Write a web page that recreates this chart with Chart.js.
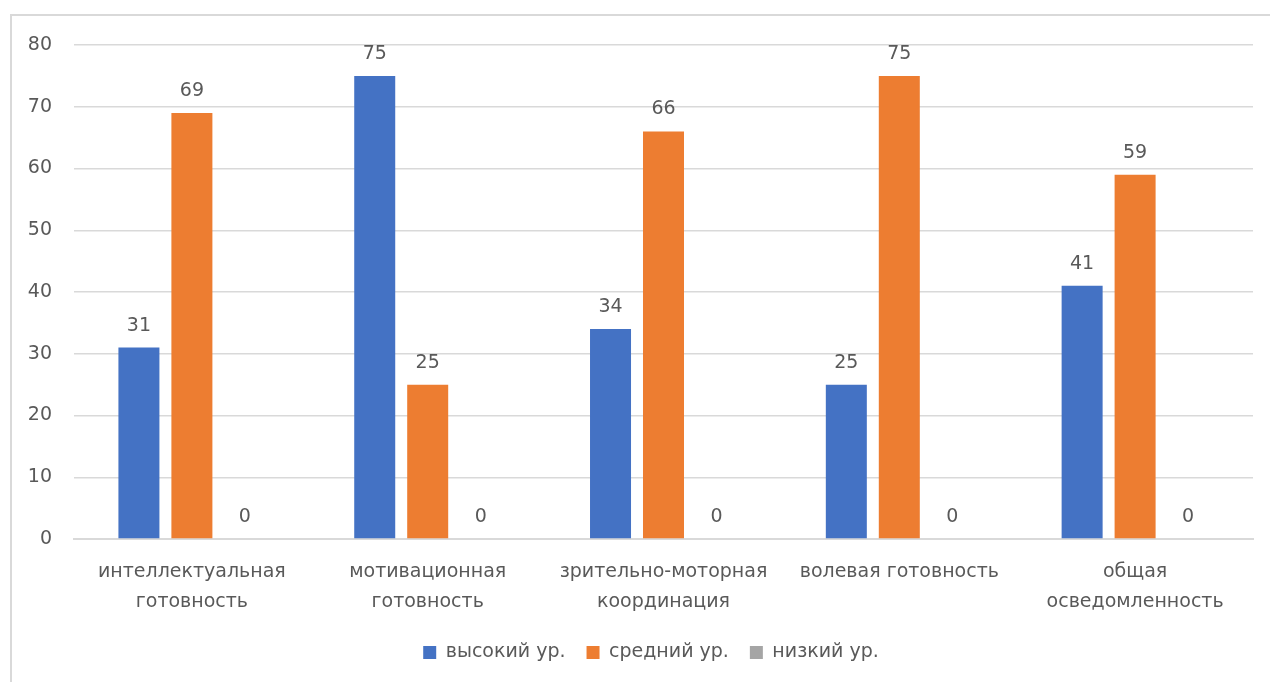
<!DOCTYPE html>
<html>
<head>
<meta charset="utf-8">
<script src="https://cdn.jsdelivr.net/npm/chart.js@4"></script>
<style>
  html, body { margin: 0; padding: 0; background: #fff; overflow: hidden; }
  #frame { position: absolute; left: 10px; top: 14px; width: 1300px; height: 700px;
           border: 2px solid #d9d9d9; box-sizing: border-box; pointer-events: none; }
  #chart { position: absolute; left: 0; top: 0; }
</style>
</head>
<body>
<div id="frame"></div>
<canvas id="chart" width="1302" height="682"></canvas>
<script>
const categories = [
    ["интеллектуальная", "готовность"],
    ["мотивационная", "готовность"],
    ["зрительно-моторная", "координация"],
    ["волевая готовность"],
    ["общая", "осведомленность"]
];
const seriesNames = ["высокий ур.", "средний ур.", "низкий ур."];
const highValues = [31, 75, 34, 25, 41];
const midValues = [69, 25, 66, 75, 59];
const lowValues = [0, 0, 0, 0, 0];
const yTicks = [0, 10, 20, 30, 40, 50, 60, 70, 80];

const FONT = "'DejaVu Sans', 'Noto Sans', sans-serif";
const TEXT = "#595959";

/* value labels above bars */
const valueLabels = {
    id: "valueLabels",
    afterDatasetsDraw(chart) {
        const ctx = chart.ctx;
        ctx.save();
        ctx.font = "19px " + FONT;
        ctx.fillStyle = TEXT;
        ctx.textAlign = "center";
        ctx.textBaseline = "middle";
        chart.data.datasets.forEach((ds, i) => {
            chart.getDatasetMeta(i).data.forEach((bar, j) => {
                ctx.fillText(ds.data[j], bar.x, bar.y - 22);
            });
        });
        ctx.restore();
    }
};

// the frame runs past the right edge of the window, so the canvas does too;
// an empty right axis keeps the plot short of it while the legend stays centred on the frame
new Chart(document.getElementById("chart"), {
    type: "bar",
    data: {
        labels: categories,
        datasets: [
            { label: seriesNames[0], data: highValues, backgroundColor: "#4472C4" },
            { label: seriesNames[1], data: midValues, backgroundColor: "#ED7D31" },
            { label: seriesNames[2], data: lowValues, backgroundColor: "#A5A5A5" }
        ]
    },
    options: {
        responsive: false,
        animation: false,
        categoryPercentage: 0.674,
        barPercentage: 0.774,
        layout: { padding: { left: 0, right: 0, top: 45, bottom: 10 } },
        plugins: {
            legend: {
                position: "bottom",
                labels: {
                    font: { family: FONT, size: 19 },
                    color: TEXT,
                    boxWidth: 13,
                    boxHeight: 13,
                    padding: 21
                }
            },
            tooltip: { enabled: false }
        },
        scales: {
            x: {
                grid: { display: false },
                border: { display: true, color: "#d9d9d9", width: 2 },
                afterFit(scale) { scale.height = 83; },
                ticks: {
                    font: { family: FONT, size: 19, lineHeight: 1.58 },
                    color: TEXT,
                    maxRotation: 0,
                    autoSkip: false,
                    padding: 10
                }
            },
            y: {
                min: 0,
                max: 80,
                afterBuildTicks(scale) {
                    scale.ticks = yTicks.map(v => ({ value: v }));
                },
                afterFit(scale) { scale.width = 74; },
                grid: { color: "#d9d9d9", lineWidth: 1.5, drawTicks: false },
                border: { display: false },
                ticks: {
                    font: { family: FONT, size: 19 },
                    color: TEXT,
                    padding: 22
                }
            },
            gap: {
                type: "linear",
                position: "right",
                afterFit(scale) { scale.width = 49; },
                grid: { display: false },
                border: { display: false },
                ticks: { display: false }
            }
        }
    },
    plugins: [valueLabels]
});
</script>
</body>
</html>
